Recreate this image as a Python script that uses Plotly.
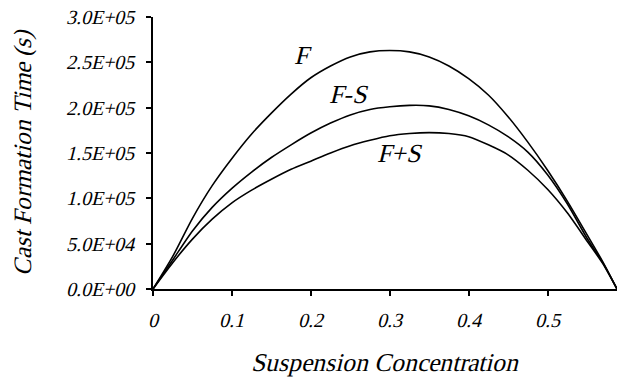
import plotly.graph_objects as go

conc = [0, 0.025, 0.05, 0.075, 0.1, 0.125, 0.15, 0.175, 0.2, 0.225, 0.25, 0.275, 0.3, 0.325, 0.35, 0.375, 0.4,
        0.425, 0.45, 0.475, 0.5, 0.525, 0.55, 0.57, 0.588]
t_F = [0, 0.36e5, 0.78e5, 1.14e5, 1.44e5, 1.71e5, 1.94e5, 2.15e5, 2.33e5, 2.46e5, 2.56e5, 2.615e5, 2.63e5,
       2.615e5, 2.56e5, 2.46e5, 2.32e5, 2.14e5, 1.90e5, 1.62e5, 1.31e5, 0.97e5, 0.60e5, 0.30e5, 0]
t_FmS = [0, 0.32e5, 0.64e5, 0.90e5, 1.11e5, 1.29e5, 1.45e5, 1.59e5, 1.72e5, 1.83e5, 1.92e5, 1.98e5, 2.01e5,
         2.025e5, 2.02e5, 1.98e5, 1.91e5, 1.81e5, 1.68e5, 1.51e5, 1.26e5, 0.94e5, 0.56e5, 0.29e5, 0]
t_FpS = [0, 0.29e5, 0.55e5, 0.77e5, 0.95e5, 1.09e5, 1.21e5, 1.32e5, 1.41e5, 1.50e5, 1.58e5, 1.64e5, 1.69e5,
         1.715e5, 1.725e5, 1.715e5, 1.68e5, 1.59e5, 1.48e5, 1.31e5, 1.10e5, 0.84e5, 0.53e5, 0.28e5, 0]

series = [("F", t_F), ("F-S", t_FmS), ("F+S", t_FpS)]
label_pos = {"F": (0.187, 2.58e5), "F-S": (0.247, 2.14e5), "F+S": (0.310, 1.50e5)}

y_ticks = [0, 0.5e5, 1.0e5, 1.5e5, 2.0e5, 2.5e5, 3.0e5]
y_ticktext = ["0.0E+00", "5.0E+04", "1.0E+05", "1.5E+05", "2.0E+05", "2.5E+05", "3.0E+05"]
x_ticks = [0, 0.1, 0.2, 0.3, 0.4, 0.5]
x_ticktext = ["0", "0.1", "0.2", "0.3", "0.4", "0.5"]

# A font family that has only the upright Liberation Serif face, so the
# browser synthesises a serif italic (no real serif italic face is installed).
FONT = "SerifSynth, 'Liberation Serif', serif"

def ifont(size):
    return dict(family=FONT, size=size, color="black", style="italic")

fig = go.Figure()
for name, vals in series:
    fig.add_trace(go.Scatter(x=conc, y=vals, mode="lines", name=name,
                             line=dict(color="black", width=1.6, shape="spline", smoothing=0.7),
                             showlegend=False))
    lx, ly = label_pos[name]
    fig.add_annotation(x=lx, y=ly, text=name, showarrow=False, font=ifont(26))

fig.add_annotation(xref="paper", yref="paper", x=-0.281, y=0.5, text="Cast Formation Time (s)",
                   textangle=-90, showarrow=False, xanchor="center", yanchor="middle", font=ifont(25))
fig.add_annotation(xref="paper", yref="paper", x=0.497, y=-0.272, text="Suspension Concentration",
                   showarrow=False, xanchor="center", yanchor="middle", font=ifont(25.5))

fig.update_layout(
    width=623, height=378,
    margin=dict(l=153, r=6, t=17, b=89),
    paper_bgcolor="white", plot_bgcolor="white",
    xaxis=dict(range=[0, 0.588], tickvals=x_ticks, ticktext=x_ticktext,
               showgrid=False, zeroline=False, showline=True, linecolor="black", linewidth=2,
               ticks="outside", ticklen=5, tickwidth=1.5, tickcolor="black",
               ticklabelstandoff=7, tickfont=ifont(20)),
    yaxis=dict(range=[0, 3.0e5], tickvals=y_ticks, ticktext=y_ticktext,
               showgrid=False, zeroline=False, showline=True, linecolor="black", linewidth=2,
               ticks="outside", ticklen=5, tickwidth=1.5, tickcolor="black",
               ticklabelstandoff=8, tickfont=ifont(20)),
)

post = """
var st = document.createElement('style');
st.textContent = "@font-face{font-family:'SerifSynth';src:local('Liberation Serif'),local('LiberationSerif'),local('Liberation Serif Regular');font-style:normal;font-weight:400;}";
document.head.appendChild(st);
var gd = document.getElementById('{plot_id}');
document.fonts.load("24px SerifSynth").then(function(){ Plotly.redraw(gd); });
"""

fig.write_html("out.html", post_script=post)
